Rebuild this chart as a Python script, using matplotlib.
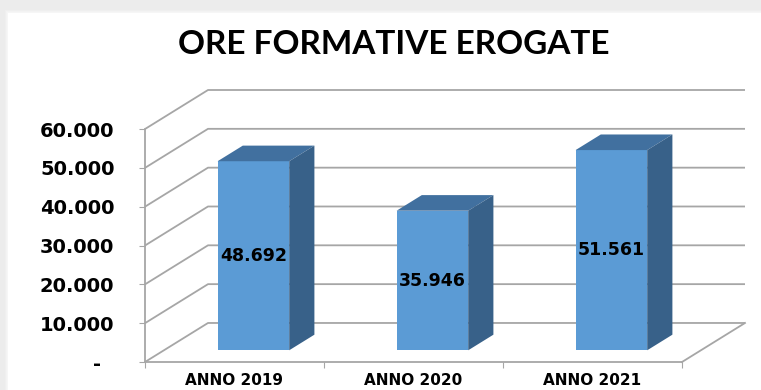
import matplotlib
matplotlib.use("Agg")
import matplotlib.pyplot as plt
from matplotlib.patches import Polygon, Rectangle

# dati
anni = ["ANNO 2019", "ANNO 2020", "ANNO 2021"]
ore = [48692, 35946, 51561]
livelli = [0, 10000, 20000, 30000, 40000, 50000, 60000]
titolo = "ORE FORMATIVE EROGATE"

# profondita' prospettica (in unita' dati) e colori
dx, dy = 0.352, 10050
f0, f1 = 0.3, 0.7          # posizione della barra nella profondita'
larghezza = 0.40
c_fronte = "#5b9bd5"
c_sopra = "#41709f"
c_lato = "#386189"
c_griglia = "#a6a6a6"


def fmt(v):
    return f"{v:,}".replace(",", ".")


W, H = 761, 390
fig = plt.figure(figsize=(W / 100, H / 100), dpi=100)
fig.patch.set_facecolor("#ececec")

# cornice bianca con leggera ombra
for k, a in enumerate([0.25, 0.5, 0.8]):
    fig.patches.append(Rectangle(((8 - 3 + k) / W, 0), 1, (H - 13 + 3 - k) / H,
                                 transform=fig.transFigure, facecolor="#f8f8f8",
                                 edgecolor="none", alpha=a, zorder=-10))
fig.patches.append(Rectangle((8 / W, 0), 1, (H - 13) / H, transform=fig.transFigure,
                             facecolor="white", edgecolor="none", zorder=-9))

# assi: fronte da x=145 a 682 px, zero a y=362 px
x0, x1 = 145, 745
y0, y1 = 362, 90
ax = fig.add_axes([x0 / W, (H - y0) / H, (x1 - x0) / W, (y0 - y1) / H])
ax.set_zorder(1)
ax.set_xlim(0, 3 + dx)
ax.set_ylim(0, 60000 + dy)
ax.patch.set_alpha(0)

# pareti e griglia
for v in livelli:
    ax.plot([0, dx, 3 + dx], [v, v + dy, v + dy], color=c_griglia, lw=1.3,
            solid_capstyle="butt", zorder=1, clip_on=False)
# pavimento
ax.plot([3, 3 + dx], [0, dy], color=c_griglia, lw=1.3, zorder=1, clip_on=False)

for sp in ["top", "right"]:
    ax.spines[sp].set_visible(False)
for sp in ["left", "bottom"]:
    ax.spines[sp].set_color(c_griglia)
    ax.spines[sp].set_linewidth(1.3)
ax.spines["left"].set_bounds(0, 60000)
ax.spines["bottom"].set_bounds(0, 3)

ax.set_yticks(livelli)
ax.set_yticklabels([fmt(v) if v else "-  " for v in livelli],
                   fontsize=14, fontweight="bold", family="DejaVu Sans")
ax.tick_params(axis="y", length=4, color=c_griglia, pad=18)

ax.set_xticks([0, 1, 2, 3])
ax.set_xticklabels([])
ax.set_xticks([0.5, 1.5, 2.5], minor=True)
ax.set_xticklabels(anni, minor=True, fontsize=11, fontweight="bold",
                   family="DejaVu Sans")
ax.tick_params(axis="x", which="major", length=4, color=c_griglia)
ax.tick_params(axis="x", which="minor", length=0, pad=8)

# barre in pseudo-3D
for i, v in enumerate(ore):
    xl = i + 0.5 - larghezza / 2 + f0 * dx
    xr = xl + larghezza
    yb = f0 * dy
    yt = yb + v
    ddx, ddy = (f1 - f0) * dx, (f1 - f0) * dy
    ax.bar(xl, v, width=larghezza, bottom=yb, align="edge", color=c_fronte,
           edgecolor="none", zorder=3)
    ax.add_patch(Polygon([(xl, yt), (xr, yt), (xr + ddx, yt + ddy), (xl + ddx, yt + ddy)],
                         closed=True, facecolor=c_sopra, edgecolor="none", zorder=3))
    ax.add_patch(Polygon([(xr, yb), (xr + ddx, yb + ddy), (xr + ddx, yt + ddy), (xr, yt)],
                         closed=True, facecolor=c_lato, edgecolor="none", zorder=3))
    ax.text((xl + xr) / 2, yb + v / 2, fmt(v), ha="center", va="center",
            fontsize=12.5, fontweight="bold", family="DejaVu Sans", zorder=4)

fig.text(394 / W, 1 - 45 / H, titolo, ha="center", va="center",
         fontsize=24, fontweight="bold", family="Lato")

fig.savefig("out.png", dpi=100)
